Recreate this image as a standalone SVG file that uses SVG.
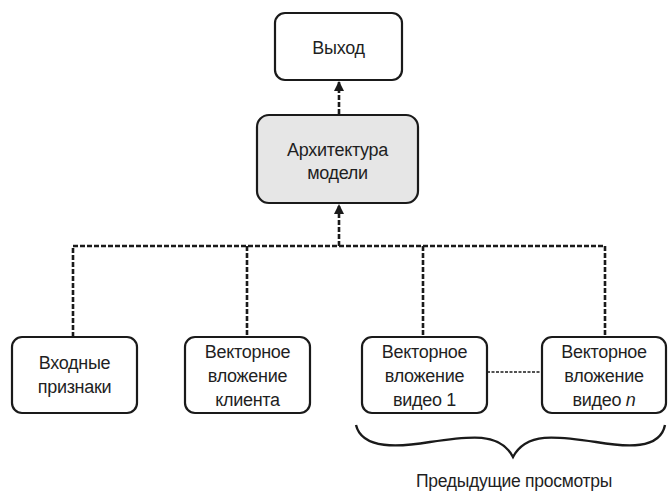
<svg xmlns="http://www.w3.org/2000/svg" width="668" height="492" viewBox="0 0 668 492">
  <style>
    .box { fill: #ffffff; stroke: #1a1a1a; stroke-width: 2.2; }
    .box.core { fill: #e6e6e6; }
    .lbl { font-family: "Liberation Sans", Arial, sans-serif; font-size: 18px; letter-spacing: -0.3px; fill: #1f1f1f; text-anchor: middle; }
    .link { fill: none; stroke: #1a1a1a; stroke-width: 2.6; stroke-dasharray: 5 2; }
    .thin { fill: none; stroke: #1a1a1a; stroke-width: 1.4; stroke-dasharray: 3 1.5; }
    .brace { fill: none; stroke: #1a1a1a; stroke-width: 2.4; }
  </style>
  <defs>
    <marker id="arrow" markerWidth="10" markerHeight="10" refX="9" refY="5" orient="auto" markerUnits="userSpaceOnUse">
      <path d="M0,0 L10,5 L0,10 Z" fill="#1a1a1a"/>
    </marker>
  </defs>
  <rect width="668" height="492" fill="#ffffff"/>

  <g id="connectors">
    <path class="link" d="M339,114 L339,82" marker-end="url(#arrow)"/>
    <path class="link" d="M339,246 L339,205" marker-end="url(#arrow)"/>
    <path class="link" d="M73,337 L73,246 L605,246 L605,337"/>
    <path class="link" d="M247,246 L247,337"/>
    <path class="link" d="M423,246 L423,337"/>
    <path class="thin" d="M487,372 L542,372"/>
  </g>

  <g id="output">
    <rect class="box" x="275" y="13" width="127" height="67" rx="10"/>
    <text class="lbl" x="338.5" y="54">Выход</text>
  </g>

  <g id="model">
    <rect class="box core" x="257" y="115" width="161" height="88" rx="12"/>
    <text class="lbl" x="337.5" y="156">Архитектура</text>
    <text class="lbl" x="337.5" y="179">модели</text>
  </g>

  <g id="features">
    <rect class="box" x="12" y="337" width="125" height="76" rx="10"/>
    <text class="lbl" x="74.5" y="369">Входные</text>
    <text class="lbl" x="74.5" y="393">признаки</text>
  </g>

  <g id="client-embedding">
    <rect class="box" x="185" y="337" width="125" height="76" rx="10"/>
    <text class="lbl" x="247.5" y="358">Векторное</text>
    <text class="lbl" x="247.5" y="382">вложение</text>
    <text class="lbl" x="247.5" y="406">клиента</text>
  </g>

  <g id="video-1">
    <rect class="box" x="362" y="337" width="125" height="76" rx="10"/>
    <text class="lbl" x="424.5" y="358">Векторное</text>
    <text class="lbl" x="424.5" y="382">вложение</text>
    <text class="lbl" x="424.5" y="406">видео 1</text>
  </g>

  <g id="video-n">
    <rect class="box" x="542" y="337" width="124" height="76" rx="10"/>
    <text class="lbl" x="604" y="358">Векторное</text>
    <text class="lbl" x="604" y="382">вложение</text>
    <text class="lbl" x="604" y="406">видео <tspan font-style="italic">n</tspan></text>
  </g>

  <g id="history">
    <path class="brace" d="M356,425 C362,450 400,447 430,442 C470,436 500,432 513,457 C526,432 556,436 596,442 C626,447 660,450 665,425"/>
    <text class="lbl" x="514" y="487" textLength="196" lengthAdjust="spacingAndGlyphs">Предыдущие просмотры</text>
  </g>
</svg>
